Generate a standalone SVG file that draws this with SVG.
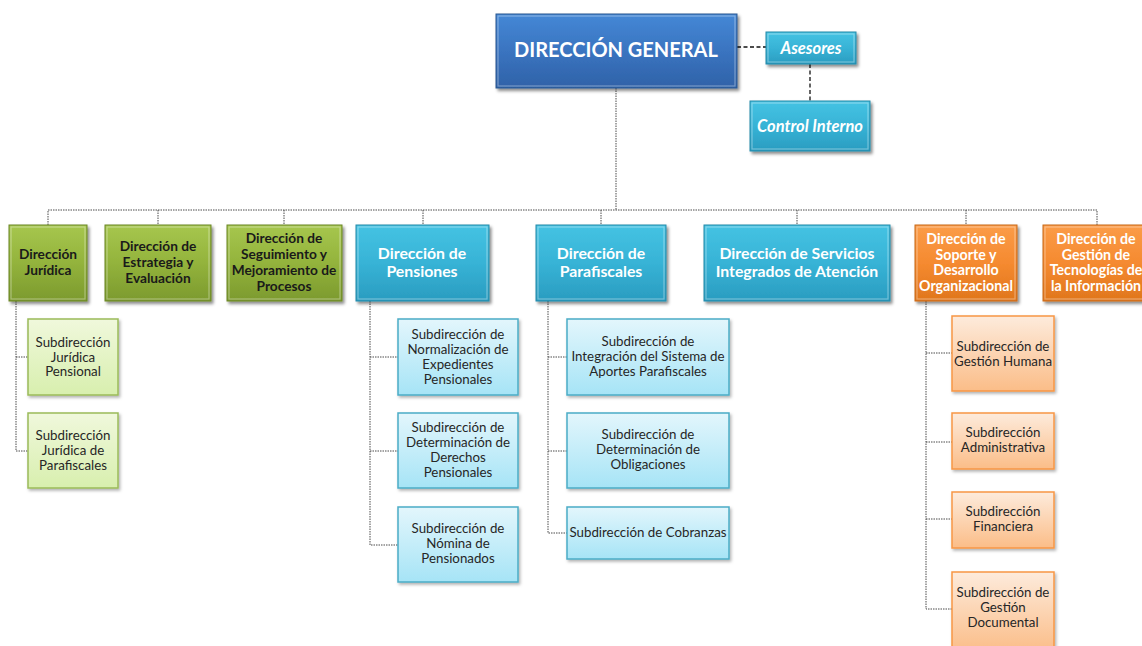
<svg xmlns="http://www.w3.org/2000/svg" width="1142" height="646" viewBox="0 0 1142 646">
  <defs>
    <linearGradient id="gBlue" x1="0" y1="0" x2="0" y2="1">
      <stop offset="0" stop-color="#4588d6"/>
      <stop offset="0.5" stop-color="#3a74c0"/>
      <stop offset="1" stop-color="#2f62a8"/>
    </linearGradient>
    <linearGradient id="gCyan" x1="0" y1="0" x2="0" y2="1">
      <stop offset="0" stop-color="#45c3e3"/>
      <stop offset="0.5" stop-color="#37b3d6"/>
      <stop offset="1" stop-color="#2a9cc0"/>
    </linearGradient>
    <linearGradient id="gGreen" x1="0" y1="0" x2="0" y2="1">
      <stop offset="0" stop-color="#a6c64e"/>
      <stop offset="0.5" stop-color="#93b33c"/>
      <stop offset="1" stop-color="#7c9a2e"/>
    </linearGradient>
    <linearGradient id="gOrange" x1="0" y1="0" x2="0" y2="1">
      <stop offset="0" stop-color="#fb9c48"/>
      <stop offset="0.5" stop-color="#f58a30"/>
      <stop offset="1" stop-color="#e0761c"/>
    </linearGradient>
    <linearGradient id="gLGreen" x1="0" y1="0" x2="0" y2="1">
      <stop offset="0" stop-color="#f0f8dc"/>
      <stop offset="1" stop-color="#d8efae"/>
    </linearGradient>
    <linearGradient id="gLCyan" x1="0" y1="0" x2="0" y2="1">
      <stop offset="0" stop-color="#e3f6fc"/>
      <stop offset="1" stop-color="#a6e4f6"/>
    </linearGradient>
    <linearGradient id="gLOrange" x1="0" y1="0" x2="0" y2="1">
      <stop offset="0" stop-color="#fdebdc"/>
      <stop offset="1" stop-color="#fbbd88"/>
    </linearGradient>
    <filter id="shadow" x="-10%" y="-10%" width="130%" height="140%">
      <feDropShadow dx="2" dy="2.5" stdDeviation="1.6" flood-color="#000" flood-opacity="0.45"/>
    </filter>
    <filter id="shadowLight" x="-10%" y="-10%" width="130%" height="140%">
      <feDropShadow dx="1.5" dy="2" stdDeviation="1.4" flood-color="#000" flood-opacity="0.3"/>
    </filter>
  </defs>
  <style>
    text { font-family: "Lato", "Open Sans", "Liberation Sans", sans-serif; text-anchor: middle; }
    .blue   { fill: url(#gBlue);   stroke: #2a568f; stroke-width: 1; filter: url(#shadow); }
    .cyan   { fill: url(#gCyan);   stroke: #2689a8; stroke-width: 1; filter: url(#shadow); }
    .green  { fill: url(#gGreen);  stroke: #6a8526; stroke-width: 1; filter: url(#shadow); }
    .orange { fill: url(#gOrange); stroke: #c8691a; stroke-width: 1; filter: url(#shadow); }
    .bevel  { fill: none; stroke: #ffffff; stroke-opacity: 0.35; stroke-width: 1.2; }
    .sgreen  { fill: url(#gLGreen);  stroke: #9bbb59; stroke-width: 1.5; filter: url(#shadowLight); }
    .scyan   { fill: url(#gLCyan);   stroke: #4bacc6; stroke-width: 1.5; filter: url(#shadowLight); }
    .sorange { fill: url(#gLOrange); stroke: #f79646; stroke-width: 1.5; filter: url(#shadowLight); }
    .tw  { fill: #ffffff; font-weight: 700; font-size: 15.8px; }
    .tk  { fill: #1a1a1a; font-weight: 700; font-size: 13.7px; }
    .tsm { fill: #ffffff; font-weight: 700; font-size: 14.2px; }
    .ts  { fill: #262626; font-size: 13.3px; }
    .ti  { fill: #ffffff; font-weight: 700; font-style: italic; font-size: 16.5px; }
    .lnk { fill: none; stroke: #4a4a4a; stroke-width: 1; stroke-dasharray: 1.5 1; }
    .adv { fill: none; stroke: #111; stroke-width: 1.3; stroke-dasharray: 4 2.5; }
  </style>

  <!-- connectors -->
  <g id="connectors">
    <path class="adv" d="M737,47 H766"/>
    <path class="adv" d="M810,64 V101"/>
    <path class="lnk" d="M616,88 V210" stroke-width="1.5"/>
    <path class="lnk" d="M48,225 V210 H1097 V225"/>
    <path class="lnk" d="M158,210 V225 M284,210 V225 M423,210 V225 M601,210 V225 M797,210 V225 M966,210 V225"/>
    <path class="lnk" d="M16,301 V451 H28 M16,357 H28"/>
    <path class="lnk" d="M370,301 V545 H398 M370,357 H398 M370,451 H398"/>
    <path class="lnk" d="M548,301 V533 H567 M548,357 H567 M548,451 H567"/>
    <path class="lnk" d="M926,301 V609 H952 M926,353 H952 M926,442 H952 M926,519 H952"/>
  </g>

  <!-- top level -->
  <g id="direccion-general">
    <rect class="blue" x="496" y="14" width="241" height="74"/>
    <rect class="bevel" x="498" y="16" width="237" height="70"/>
    <text x="616" y="57" fill="#fff" font-weight="700" font-size="20">DIRECCIÓN GENERAL</text>
  </g>
  <g id="asesores">
    <rect class="cyan" x="766" y="32" width="90" height="32"/>
    <rect class="bevel" x="768" y="34" width="86" height="28"/>
    <text class="ti" x="811" y="53.5">Asesores</text>
  </g>
  <g id="control-interno">
    <rect class="cyan" x="750" y="101" width="120" height="50"/>
    <rect class="bevel" x="752" y="103" width="116" height="46"/>
    <text class="ti" x="810" y="131.5">Control Interno</text>
  </g>

  <!-- directions -->
  <g id="dir-juridica">
    <rect class="green" x="9" y="225" width="78" height="76"/>
    <rect class="bevel" x="11" y="227" width="74" height="72"/>
    <text class="tk" x="48"><tspan x="48" y="259">Dirección</tspan><tspan x="48" y="275">Jurídica</tspan></text>
  </g>
  <g id="dir-estrategia">
    <rect class="green" x="105" y="225" width="106" height="76"/>
    <rect class="bevel" x="107" y="227" width="102" height="72"/>
    <text class="tk"><tspan x="158" y="251">Dirección de</tspan><tspan x="158" y="267">Estrategia y</tspan><tspan x="158" y="283">Evaluación</tspan></text>
  </g>
  <g id="dir-seguimiento">
    <rect class="green" x="227" y="225" width="115" height="76"/>
    <rect class="bevel" x="229" y="227" width="111" height="72"/>
    <text class="tk"><tspan x="284" y="243">Dirección de</tspan><tspan x="284" y="259">Seguimiento y</tspan><tspan x="284" y="275">Mejoramiento de</tspan><tspan x="284" y="291">Procesos</tspan></text>
  </g>
  <g id="dir-pensiones">
    <rect class="cyan" x="356" y="225" width="133" height="76"/>
    <rect class="bevel" x="358" y="227" width="129" height="72"/>
    <text class="tw"><tspan x="422" y="259">Dirección de</tspan><tspan x="422" y="277">Pensiones</tspan></text>
  </g>
  <g id="dir-parafiscales">
    <rect class="cyan" x="536" y="225" width="130" height="76"/>
    <rect class="bevel" x="538" y="227" width="126" height="72"/>
    <text class="tw"><tspan x="601" y="259">Dirección de</tspan><tspan x="601" y="277">Parafiscales</tspan></text>
  </g>
  <g id="dir-servicios">
    <rect class="cyan" x="704" y="225" width="186" height="76"/>
    <rect class="bevel" x="706" y="227" width="182" height="72"/>
    <text class="tw"><tspan x="797" y="259">Dirección de Servicios</tspan><tspan x="797" y="277">Integrados de Atención</tspan></text>
  </g>
  <g id="dir-soporte">
    <rect class="orange" x="915" y="225" width="102" height="76"/>
    <rect class="bevel" x="917" y="227" width="98" height="72"/>
    <text class="tsm"><tspan x="966" y="244">Dirección de</tspan><tspan x="966" y="259.5">Soporte y</tspan><tspan x="966" y="275">Desarrollo</tspan><tspan x="966" y="290.5">Organizacional</tspan></text>
  </g>
  <g id="dir-tecnologias">
    <rect class="orange" x="1043" y="225" width="106" height="76"/>
    <rect class="bevel" x="1045" y="227" width="102" height="72"/>
    <text class="tsm"><tspan x="1096" y="244">Dirección de</tspan><tspan x="1096" y="259.5">Gestión de</tspan><tspan x="1096" y="275">Tecnologías de</tspan><tspan x="1096" y="290.5">la Información</tspan></text>
  </g>

  <!-- subdirections: juridica -->
  <g id="sub-juridica-pensional">
    <rect class="sgreen" x="28" y="319" width="90" height="76"/>
    <text class="ts"><tspan x="73" y="347">Subdirección</tspan><tspan x="73" y="362">Jurídica</tspan><tspan x="73" y="376">Pensional</tspan></text>
  </g>
  <g id="sub-juridica-parafiscales">
    <rect class="sgreen" x="28" y="413" width="90" height="75"/>
    <text class="ts"><tspan x="73" y="440">Subdirección</tspan><tspan x="73" y="455">Jurídica de</tspan><tspan x="73" y="470">Parafiscales</tspan></text>
  </g>

  <!-- subdirections: pensiones -->
  <g id="sub-normalizacion">
    <rect class="scyan" x="398" y="319" width="120" height="76"/>
    <text class="ts"><tspan x="458" y="339">Subdirección de</tspan><tspan x="458" y="354">Normalización de</tspan><tspan x="458" y="369">Expedientes</tspan><tspan x="458" y="384">Pensionales</tspan></text>
  </g>
  <g id="sub-derechos">
    <rect class="scyan" x="398" y="413" width="120" height="75"/>
    <text class="ts"><tspan x="458" y="432">Subdirección de</tspan><tspan x="458" y="447">Determinación de</tspan><tspan x="458" y="462">Derechos</tspan><tspan x="458" y="477">Pensionales</tspan></text>
  </g>
  <g id="sub-nomina">
    <rect class="scyan" x="398" y="507" width="120" height="75"/>
    <text class="ts"><tspan x="458" y="533">Subdirección de</tspan><tspan x="458" y="548">Nómina de</tspan><tspan x="458" y="563">Pensionados</tspan></text>
  </g>

  <!-- subdirections: parafiscales -->
  <g id="sub-integracion">
    <rect class="scyan" x="567" y="319" width="162" height="76"/>
    <text class="ts"><tspan x="648" y="346">Subdirección de</tspan><tspan x="648" y="361">Integración del Sistema de</tspan><tspan x="648" y="376">Aportes Parafiscales</tspan></text>
  </g>
  <g id="sub-obligaciones">
    <rect class="scyan" x="567" y="413" width="162" height="75"/>
    <text class="ts"><tspan x="648" y="439">Subdirección de</tspan><tspan x="648" y="454">Determinación de</tspan><tspan x="648" y="469">Obligaciones</tspan></text>
  </g>
  <g id="sub-cobranzas">
    <rect class="scyan" x="567" y="507" width="162" height="52"/>
    <text class="ts" x="648" y="537">Subdirección de Cobranzas</text>
  </g>

  <!-- subdirections: soporte -->
  <g id="sub-gestion-humana">
    <rect class="sorange" x="952" y="316" width="102" height="75"/>
    <text class="ts"><tspan x="1003" y="351">Subdirección de</tspan><tspan x="1003" y="366">Gestión Humana</tspan></text>
  </g>
  <g id="sub-administrativa">
    <rect class="sorange" x="952" y="413" width="102" height="56"/>
    <text class="ts"><tspan x="1003" y="437">Subdirección</tspan><tspan x="1003" y="452">Administrativa</tspan></text>
  </g>
  <g id="sub-financiera">
    <rect class="sorange" x="952" y="492" width="102" height="56"/>
    <text class="ts"><tspan x="1003" y="516">Subdirección</tspan><tspan x="1003" y="531">Financiera</tspan></text>
  </g>
  <g id="sub-gestion-documental">
    <rect class="sorange" x="952" y="572" width="102" height="80"/>
    <text class="ts"><tspan x="1003" y="597">Subdirección de</tspan><tspan x="1003" y="612">Gestión</tspan><tspan x="1003" y="627">Documental</tspan></text>
  </g>
</svg>
